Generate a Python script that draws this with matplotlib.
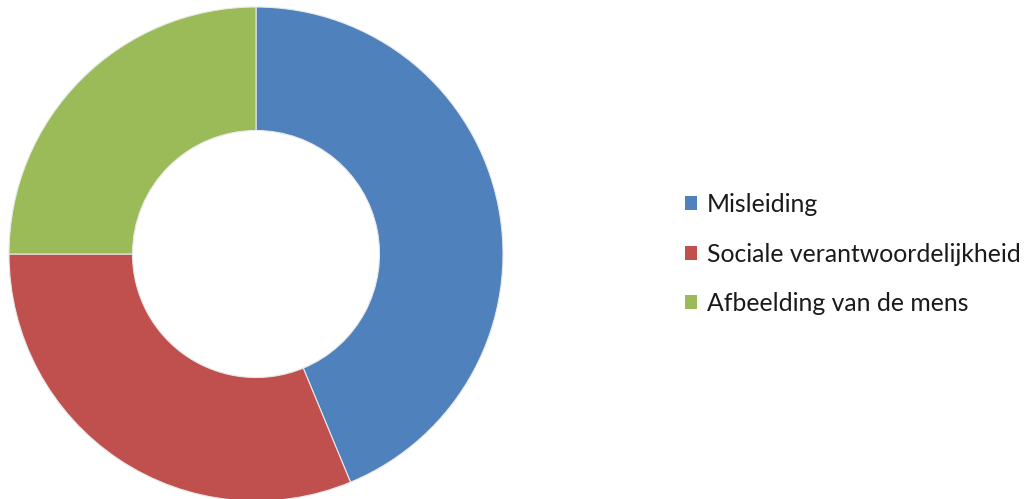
"""
Donut chart: categorie-verdeling (Misleiding / Sociale verantwoordelijkheid /
Afbeelding van de mens).
"""

import matplotlib
matplotlib.use("Agg")
import matplotlib.pyplot as plt
from matplotlib.patches import Patch

# ================================================================
# DATA
# ================================================================

CATEGORIES = ["Misleiding", "Sociale verantwoordelijkheid", "Afbeelding van de mens"]
SHARES = [7, 5, 4]
COLORS = ["#4F81BD", "#C0504D", "#9BBB59"]

plt.rcParams["font.family"] = ["Lato", "DejaVu Sans"]

# ================================================================
# PLOT
# ================================================================

fig = plt.figure(figsize=(10.29, 4.99), dpi=100)

W, H = 1029, 499
cx, cy, r = 256, 245, 247
ax = fig.add_axes([(cx - r) / W, (cy - r) / H, 2 * r / W, 2 * r / H])

ax.pie(SHARES, colors=COLORS, startangle=90, counterclock=False,
       radius=1.0,
       wedgeprops=dict(width=0.5, edgecolor="#e8e8e8", linewidth=0.8))
ax.set_xlim(-1, 1)
ax.set_ylim(-1, 1)
ax.set_aspect("equal")
ax.axis("off")

# legend to the right, Office-style square markers
fs = 17.8
pad_px = 0.9 * fs * 100 / 72
handles = [Patch(facecolor=c, edgecolor="none") for c in COLORS]
fig.legend(handles, CATEGORIES, loc="center left",
           bbox_to_anchor=((685 - pad_px) / W, 1 - 254 / H),
           frameon=False, fontsize=fs, handlelength=0.5, handleheight=0.5,
           handletextpad=0.38, labelspacing=1.07, labelcolor="#1a1a1a")

fig.savefig("out.png", dpi=100)
